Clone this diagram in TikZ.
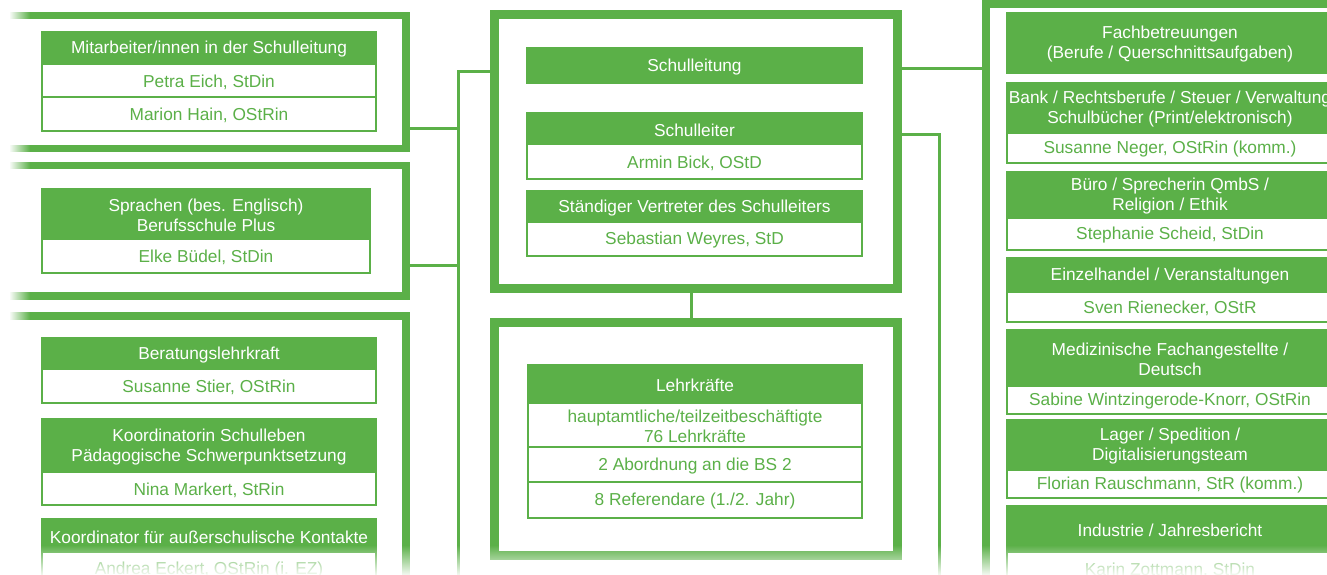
\documentclass[tikz,border=0pt]{standalone}
\usepackage{fontspec}
\setmainfont{Liberation Sans}
\usetikzlibrary{fadings}
\definecolor{G}{RGB}{91,176,72}
\tikzfading[name=fadeL, left color=transparent!0, right color=transparent!100]
\tikzfading[name=fadeB, top color=transparent!100, bottom color=transparent!0]
\newcommand\cellfont{\fontsize{17.3}{20}\selectfont}
\newcommand\cellbox[7]{\node[#6, minimum width={(#4)-(#2)}, minimum height={(#5)-(#3)}] (#1) at ({((#2)+(#4))/2},{((#3)+(#5))/2}) {};
  \node[#6, draw=none, fill=none, yshift=-1.5pt] (#1t) at (#1.center) {#7};}
\tikzset{
  hdr/.style={fill=G, draw=G, line width=1.5pt, text=white, align=center, inner sep=0pt, font=\cellfont},
  row/.style={fill=white, draw=G, line width=1.5pt, text=G, align=center, inner sep=0pt, font=\cellfont},
  frameL/.style={draw=G, line width=7.5pt, inner sep=0pt},
  frameC/.style={draw=G, line width=9pt, inner sep=0pt},
  conn/.style={draw=G, line width=3pt}
}
\begin{document}
\begin{tikzpicture}[x=1pt,y=-1pt]
\useasboundingbox (0,0) rectangle (1327,575);
\clip (0,0) rectangle (1327,575);
% frames
\cellbox{f1}{-10}{15.5}{406}{148.5}{frameL}{}
\cellbox{f2}{-10}{165.5}{406}{296}{frameL}{}
\cellbox{f3}{-10}{316}{406}{640}{frameL}{}
\cellbox{fc1}{494.5}{14.5}{897.5}{288.5}{frameC}{}
\cellbox{fc2}{494.5}{322.5}{897.5}{555.5}{frameC}{}
\cellbox{fr}{986}{4}{1380}{640}{frameL}{}
% connectors
\coordinate (cL0) at (458,72);
\coordinate (cL1) at (458,129);
\coordinate (cL2) at (458,265);
\coordinate (cLb) at (458,600);
\coordinate (cM) at (691,300);
\coordinate (cR0) at (940,68.5);
\coordinate (cR1) at (939,135);
\coordinate (cRb) at (939,600);
\draw[conn] (fc1.west |- cL0) -- (cL0) -- (cLb);
\draw[conn] (f1.east |- cL1) -- (cL1);
\draw[conn] (f2.east |- cL2) -- (cL2);
\draw[conn] (fc1.south -| cM) -- (fc2.north -| cM);
\draw[conn] (fc1.east |- cR0) -- (fr.west |- cR0);
\draw[conn] (fc1.east |- cR1) -- (cR1) -- (cRb);
% left column
\cellbox{a1}{42}{32}{376}{64}{hdr}{Mitarbeiter/innen in der Schulleitung}
\cellbox{a2}{42}{64}{376}{97}{row}{Petra Eich, StDin}
\cellbox{a3}{42}{97}{376}{131}{row}{Marion Hain, OStRin}
\cellbox{b1}{42}{189}{370}{239}{hdr}{Sprachen (bes. Englisch)\\Berufsschule Plus}
\cellbox{b2}{42}{239}{370}{273}{row}{Elke Büdel, StDin}
\cellbox{c1}{42}{338}{376}{369}{hdr}{Beratungslehrkraft}
\cellbox{c2}{42}{369}{376}{403}{row}{Susanne Stier, OStRin}
\cellbox{c3}{42}{419}{376}{472}{hdr}{Koordinatorin Schulleben\\Pädagogische Schwerpunktsetzung}
\cellbox{c4}{42}{472}{376}{505}{row}{Nina Markert, StRin}
\cellbox{c5}{42}{519}{376}{552}{hdr}{Koordinator für außerschulische Kontakte}
\cellbox{c6}{42}{552}{376}{585}{row}{Andrea Eckert, OStRin (i. EZ)}
% centre
\cellbox{m0}{527}{48}{862}{83}{hdr}{Schulleitung}
\cellbox{m1}{527}{113}{862}{144}{hdr}{Schulleiter}
\cellbox{m2}{527}{144}{862}{179}{row}{Armin Bick, OStD}
\cellbox{m3}{527}{191}{862}{222}{hdr}{Ständiger Vertreter des Schulleiters}
\cellbox{m4}{527}{222}{862}{256}{row}{Sebastian Weyres, StD}
\cellbox{l1}{528}{365}{862}{403}{hdr}{Lehrkräfte}
\cellbox{l2}{528}{403}{862}{447}{row}{hauptamtliche/teilzeitbeschäftigte\\76 Lehrkräfte}
\cellbox{l3}{528}{447}{862}{482}{row}{2 Abordnung an die BS 2}
\cellbox{l4}{528}{482}{862}{518}{row}{8 Referendare (1./2. Jahr)}
% right column
\cellbox{r0}{1007}{13}{1333}{73}{hdr}{Fachbetreuungen\\(Berufe / Querschnittsaufgaben)}
\cellbox{r1}{1007}{83}{1333}{133}{hdr}{Bank / Rechtsberufe / Steuer / Verwaltung\\Schulbücher (Print/elektronisch)}
\cellbox{r2}{1007}{133}{1333}{163}{row}{Susanne Neger, OStRin (komm.)}
\cellbox{r3}{1007}{172}{1333}{218}{hdr}{Büro / Sprecherin QmbS /\\Religion / Ethik}
\cellbox{r4}{1007}{218}{1333}{250}{row}{Stephanie Scheid, StDin}
\cellbox{r5}{1007}{258}{1333}{292}{hdr}{Einzelhandel / Veranstaltungen}
\cellbox{r6}{1007}{292}{1333}{322}{row}{Sven Rienecker, OStR}
\cellbox{r7}{1007}{330}{1333}{386}{hdr}{Medizinische Fachangestellte /\\Deutsch}
\cellbox{r8}{1007}{386}{1333}{414}{row}{Sabine Wintzingerode-Knorr, OStRin}
\cellbox{r9}{1007}{420}{1333}{470}{hdr}{Lager / Spedition /\\Digitalisierungsteam}
\cellbox{r10}{1007}{470}{1333}{498}{row}{Florian Rauschmann, StR (komm.)}
\cellbox{r11}{1007}{506}{1333}{552}{hdr}{Industrie / Jahresbericht}
\cellbox{r12}{1007}{552}{1333}{585}{row}{Karin Zottmann, StDin}
% edge fades
\fill[white, path fading=fadeB] (-2,545) rectangle (1330,577);
\fill[white] (-2,-2) rectangle (10,577);
\fill[white, path fading=fadeL] (9,-2) rectangle (30,577);
\end{tikzpicture}
\end{document}
